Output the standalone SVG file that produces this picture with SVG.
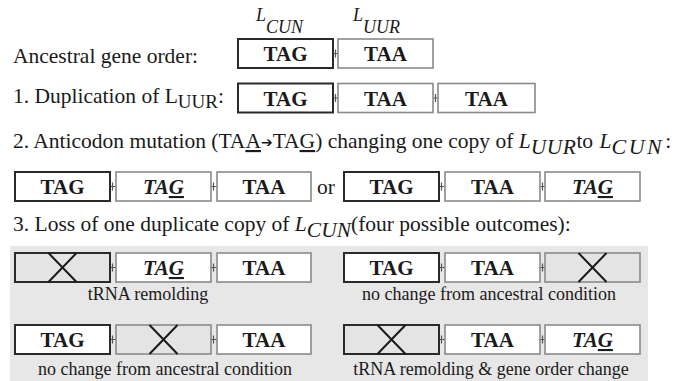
<svg xmlns="http://www.w3.org/2000/svg" width="682" height="381" viewBox="0 0 682 381">
  <style>
    text { font-family: "Liberation Serif", "Times New Roman", serif; fill: #1a1a1a; }
    .h { font-size: 21.5px; }
    .lab { font-size: 18px; text-anchor: middle; }
    .g { font-size: 21px; font-weight: bold; text-anchor: middle; }
    .gi { font-size: 21px; font-weight: bold; font-style: italic; text-anchor: middle; }
    .it { font-style: italic; }
    .anc { fill: #ffffff; stroke: #2a2a2a; stroke-width: 2; }
    .cp { fill: #ffffff; stroke: #8a8a8a; stroke-width: 1.6; }
    .lostA { fill: #e4e4e4; stroke: #2a2a2a; stroke-width: 2; }
    .lostB { fill: #e4e4e4; stroke: #8a8a8a; stroke-width: 1.6; }
    .x { stroke: #1a1a1a; stroke-width: 2; fill: none; }
    .link { stroke: #555; stroke-width: 1.2; fill: none; }
  </style>

  <!-- outcome panel -->
  <rect x="10" y="246" width="638" height="135" fill="#e7e7e7"/>

  <!-- headings -->
  <text class="h" x="13" y="63">Ancestral gene order:</text>
  <text class="it" x="256" y="21" font-size="18">L<tspan dy="12">CUN</tspan></text>
  <text class="it" x="353" y="21" font-size="18">L<tspan dy="12">UUR</tspan></text>
  <text class="h" x="13" y="103">1. Duplication of L<tspan dy="5" font-size="19">UUR</tspan><tspan dy="-5">:</tspan></text>
  <text class="h" x="13" y="148">2. Anticodon mutation (TA<tspan text-decoration="underline">A</tspan><tspan font-family="DejaVu Sans" font-size="14" dy="-1">➔</tspan><tspan dy="1">TA</tspan><tspan text-decoration="underline">G</tspan>) changing one copy of <tspan class="it">L</tspan><tspan class="it" dy="6" letter-spacing="0.5">UUR</tspan><tspan dy="-6">to </tspan><tspan class="it" dx="1">L</tspan><tspan class="it" dy="6" font-size="22" letter-spacing="2.5">CUN</tspan><tspan dy="-6" dx="1">:</tspan></text>
  <text class="h" x="13" y="231">3. Loss of one duplicate copy of <tspan class="it">L</tspan><tspan class="it" dy="6">CUN</tspan><tspan dy="-6">(four possible outcomes):</tspan></text>

  <!-- connectors -->
  <g id="connectors">
    <path class="link" d="M333 53.5H338M335.5 49.5V57.5"/>
    <path class="link" d="M333 98H338M335.5 94V102M433 98H438M435.5 94V102"/>
    <path class="link" d="M110 186.5H116M112.5 182.5V190.5M211 186.5H217M213.5 182.5V190.5"/>
    <path class="link" d="M439 186.5H445M441.5 182.5V190.5M540 186.5H545M542.5 182.5V190.5"/>
    <path class="link" d="M110 267.5H116M112.5 263.5V271.5M211 267.5H217M213.5 263.5V271.5"/>
    <path class="link" d="M439 267.5H445M441.5 263.5V271.5M540 267.5H545M542.5 263.5V271.5"/>
    <path class="link" d="M110 339.5H116M112.5 335.5V343.5M211 339.5H217M213.5 335.5V343.5"/>
    <path class="link" d="M439 339.5H445M441.5 335.5V343.5M540 339.5H545M542.5 335.5V343.5"/>
  </g>

  <!-- ancestral order -->
  <g id="anc-tag"><rect class="anc" x="238" y="39" width="95" height="29"/><text class="g" x="285.5" y="61">TAG</text></g>
  <g id="anc-taa"><rect class="cp" x="338" y="39" width="95" height="29"/><text class="g" x="385.5" y="61">TAA</text></g>

  <!-- step 1 -->
  <g id="dup-tag"><rect class="anc" x="238" y="83.5" width="95" height="29"/><text class="g" x="285.5" y="105.5">TAG</text></g>
  <g id="dup-taa1"><rect class="cp" x="338" y="83.5" width="95" height="29"/><text class="g" x="385.5" y="105.5">TAA</text></g>
  <g id="dup-taa2"><rect class="cp" x="438" y="83.5" width="97" height="29"/><text class="g" x="486.5" y="105.5">TAA</text></g>

  <!-- step 2 -->
  <g id="m1-tag"><rect class="anc" x="15" y="172" width="95" height="29"/><text class="g" x="62.5" y="194">TAG</text></g>
  <g id="m1-new"><rect class="cp" x="116" y="172" width="95" height="29"/><text class="gi" x="163.5" y="194">TA<tspan text-decoration="underline">G</tspan></text></g>
  <g id="m1-taa"><rect class="cp" x="217" y="172" width="94" height="29"/><text class="g" x="264" y="194">TAA</text></g>
  <text class="h" x="317" y="194">or</text>
  <g id="m2-tag"><rect class="anc" x="344" y="172" width="95" height="29"/><text class="g" x="391.5" y="194">TAG</text></g>
  <g id="m2-taa"><rect class="cp" x="445" y="172" width="95" height="29"/><text class="g" x="492.5" y="194">TAA</text></g>
  <g id="m2-new"><rect class="cp" x="545" y="172" width="95" height="29"/><text class="gi" x="592.5" y="194">TA<tspan text-decoration="underline">G</tspan></text></g>

  <!-- step 3, outcome a -->
  <g id="a-lost"><rect class="lostA" x="15" y="253" width="95" height="29"/><path class="x" d="M48.5 253L76.5 282M76.5 253L48.5 282"/></g>
  <g id="a-new"><rect class="cp" x="116" y="253" width="95" height="29"/><text class="gi" x="163.5" y="275">TA<tspan text-decoration="underline">G</tspan></text></g>
  <g id="a-taa"><rect class="cp" x="217" y="253" width="94" height="29"/><text class="g" x="264" y="275">TAA</text></g>
  <text class="lab" x="148" y="300">tRNA remolding</text>

  <!-- step 3, outcome b -->
  <g id="b-tag"><rect class="anc" x="344" y="253" width="95" height="29"/><text class="g" x="391.5" y="275">TAG</text></g>
  <g id="b-taa"><rect class="cp" x="445" y="253" width="95" height="29"/><text class="g" x="492.5" y="275">TAA</text></g>
  <g id="b-lost"><rect class="lostB" x="545" y="253" width="95" height="29"/><path class="x" d="M578.5 253L606.5 282M606.5 253L578.5 282"/></g>
  <text class="lab" x="489" y="300">no change from ancestral condition</text>

  <!-- step 3, outcome c -->
  <g id="c-tag"><rect class="anc" x="15" y="325" width="95" height="29"/><text class="g" x="62.5" y="347">TAG</text></g>
  <g id="c-lost"><rect class="lostB" x="116" y="325" width="95" height="29"/><path class="x" d="M149.5 325L177.5 354M177.5 325L149.5 354"/></g>
  <g id="c-taa"><rect class="cp" x="217" y="325" width="94" height="29"/><text class="g" x="264" y="347">TAA</text></g>
  <text class="lab" x="165" y="375">no change from ancestral condition</text>

  <!-- step 3, outcome d -->
  <g id="d-lost"><rect class="lostA" x="344" y="325" width="95" height="29"/><path class="x" d="M377.5 325L405.5 354M405.5 325L377.5 354"/></g>
  <g id="d-taa"><rect class="cp" x="445" y="325" width="95" height="29"/><text class="g" x="492.5" y="347">TAA</text></g>
  <g id="d-new"><rect class="cp" x="545" y="325" width="95" height="29"/><text class="gi" x="592.5" y="347">TA<tspan text-decoration="underline">G</tspan></text></g>
  <text class="lab" x="491" y="375">tRNA remolding &amp; gene order change</text>
</svg>
